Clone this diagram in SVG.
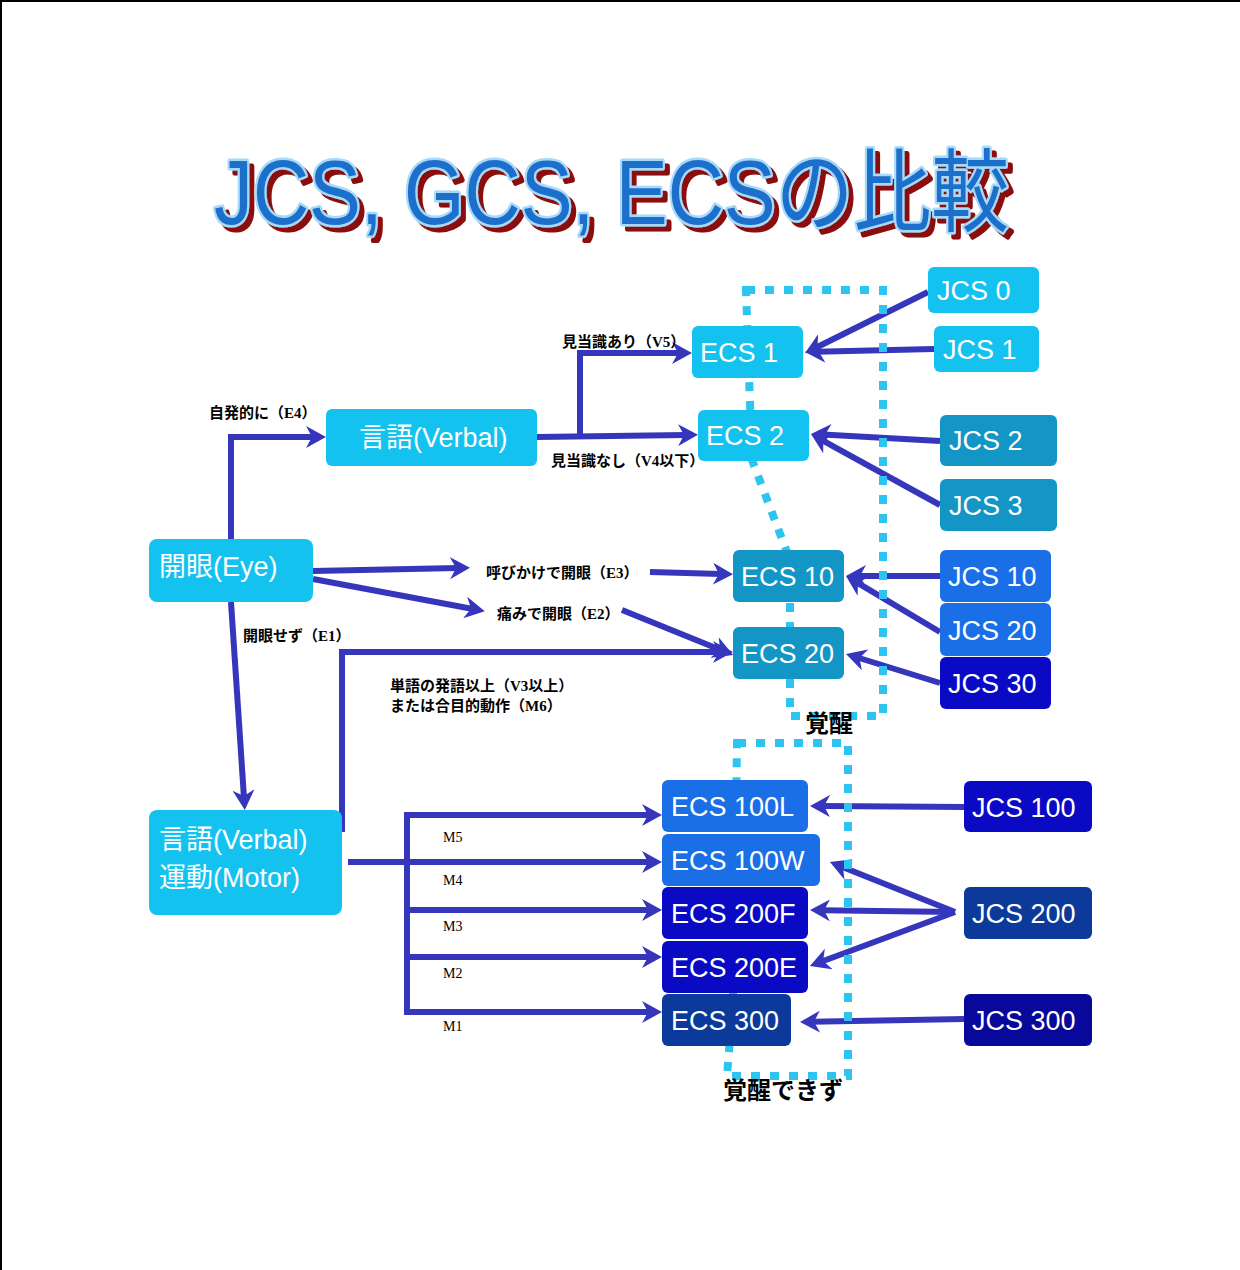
<svg xmlns="http://www.w3.org/2000/svg" width="1240" height="1270" viewBox="0 0 1240 1270">
<defs>
<marker id="ah" markerUnits="userSpaceOnUse" markerWidth="20" markerHeight="22" viewBox="0 0 20 22" refX="8" refY="11" orient="auto">
<path d="M0,0 L20,11 L0,22 L6,11 Z" fill="#3636bd"/>
</marker>
<filter id="sh" x="-5%" y="-30%" width="115%" height="170%">
<feOffset in="SourceAlpha" dx="5" dy="5" result="o"/>
<feFlood flood-color="#8b0a0a"/>
<feComposite in2="o" operator="in" result="s"/>
<feMerge><feMergeNode in="s"/><feMergeNode in="SourceGraphic"/></feMerge>
</filter>
<style>
.c{fill:none;stroke:#3636bd;stroke-width:6;}
.a{marker-end:url(#ah);}
.dot{fill:none;stroke:#2ec4f0;stroke-width:8;stroke-dasharray:9 10;}
.n1{fill:#14c2f0;}
.n2{fill:#1395c6;}
.n3{fill:#1a6ee6;}
.n4{fill:#0a0ac4;}
.n5{fill:#0b3a9a;}
.n6{fill:#08089a;}
.t{font-family:"Liberation Sans","Noto Sans CJK JP",sans-serif;font-size:27px;fill:#ffffff;}
.l{font-family:"Liberation Serif","Noto Sans CJK JP",serif;font-size:15px;font-weight:bold;fill:#000000;}
.m{font-family:"Liberation Serif",serif;font-size:14px;fill:#000000;}
.k{font-family:"Noto Sans CJK JP",sans-serif;font-size:24px;font-weight:bold;fill:#000000;}
.title{font-family:"Liberation Sans","Noto Sans CJK JP",sans-serif;font-size:90px;}
</style>
</defs>
<rect width="1240" height="1270" fill="#ffffff"/>
<path d="M1,1270 V1 H1240" fill="none" stroke="#000000" stroke-width="2"/>

<g id="title">
<text class="title" x="214" y="224" textLength="795" lengthAdjust="spacingAndGlyphs" fill="#1e70cc" stroke="#a6daf8" stroke-width="5" stroke-linejoin="round" paint-order="stroke" filter="url(#sh)">JCS, GCS, ECSの比較</text>
</g>

<g id="connectors">
<path class="c a" d="M231,541 V437 H314"/>
<path class="c a" d="M537,437 L686,435"/>
<path class="c a" d="M580,437 V353 H680"/>
<path class="c a" d="M313,571 L458,568"/>
<path class="c a" d="M650,572 L721,574"/>
<path class="c a" d="M313,579 L473,609"/>
<path class="c a" d="M622,610 L722,650.5"/>
<path class="c a" d="M231,602 L244,798"/>
<path class="c a" d="M342,832 V652 H721"/>
<path class="c a" d="M348,862 H650"/>
<path class="c" d="M407,815 V1012"/>
<path class="c a" d="M404,815 H650"/>
<path class="c a" d="M407,910 H650"/>
<path class="c a" d="M407,957 H650"/>
<path class="c a" d="M404,1012 H650"/>
<path class="c a" d="M928,292 L815.8,347.7"/>
<path class="c a" d="M934,349 L817,351.7"/>
<path class="c a" d="M940,441 L823,434.6"/>
<path class="c a" d="M940,505 L821.5,439.8"/>
<path class="c a" d="M940,576 L858,576"/>
<path class="c a" d="M940,632 L856.3,582.1"/>
<path class="c a" d="M940,683 L857.5,657.5"/>
<path class="c a" d="M964,807 L822,806"/>
<path class="c a" d="M955,912 L841.1,866.5"/>
<path class="c a" d="M955,912 L822,910.2"/>
<path class="c a" d="M955,912 L821.2,961.8"/>
<path class="c a" d="M964,1019 L812,1021.8"/>
</g>

<g id="groups">
<path class="dot" d="M746,290 H883 V716 H790 V560 L752,460 Z"/>
<path class="dot" d="M737,743 H848 V1076 H727 L733,1000 Z"/>
</g>

<g id="ecs1"><rect class="n1" x="692" y="326" width="111" height="52" rx="6"/><text class="t" x="700" y="362">ECS 1</text></g>
<g id="ecs2"><rect class="n1" x="698" y="410" width="111" height="51" rx="6"/><text class="t" x="706" y="445">ECS 2</text></g>
<g id="ecs10"><rect class="n2" x="733" y="550" width="111" height="52" rx="6"/><text class="t" x="741" y="586">ECS 10</text></g>
<g id="ecs20"><rect class="n2" x="733" y="627" width="111" height="52" rx="6"/><text class="t" x="741" y="663">ECS 20</text></g>

<g id="jcs0"><rect class="n1" x="928" y="267" width="111" height="46" rx="6"/><text class="t" x="937" y="300">JCS 0</text></g>
<g id="jcs1"><rect class="n1" x="934" y="326" width="105" height="46" rx="6"/><text class="t" x="943" y="359">JCS 1</text></g>
<g id="jcs2"><rect class="n2" x="940" y="415" width="117" height="51" rx="6"/><text class="t" x="949" y="450">JCS 2</text></g>
<g id="jcs3"><rect class="n2" x="940" y="479" width="117" height="52" rx="6"/><text class="t" x="949" y="515">JCS 3</text></g>
<g id="jcs10"><rect class="n3" x="940" y="550" width="111" height="52" rx="6"/><text class="t" x="948" y="586">JCS 10</text></g>
<g id="jcs20"><rect class="n3" x="940" y="603" width="111" height="53" rx="6"/><text class="t" x="948" y="640">JCS 20</text></g>
<g id="jcs30"><rect class="n4" x="940" y="657" width="111" height="52" rx="6"/><text class="t" x="948" y="693">JCS 30</text></g>

<g id="verbal"><rect class="n1" x="326" y="409" width="211" height="57" rx="6"/><text class="t" x="359" y="447">言語(Verbal)</text></g>
<g id="eye"><rect class="n1" x="149" y="539" width="164" height="63" rx="8"/><text class="t" x="159" y="576">開眼(Eye)</text></g>
<g id="vm"><rect class="n1" x="149" y="810" width="193" height="105" rx="8"/><text class="t" x="159" y="849">言語(Verbal)</text><text class="t" x="159" y="887">運動(Motor)</text></g>

<g id="ecs100l"><rect class="n3" x="662" y="780" width="146" height="52" rx="6"/><text class="t" x="671" y="816">ECS 100L</text></g>
<g id="ecs100w"><rect class="n3" x="662" y="834" width="158" height="52" rx="6"/><text class="t" x="671" y="870">ECS 100W</text></g>
<g id="ecs200f"><rect class="n4" x="662" y="887" width="146" height="52" rx="6"/><text class="t" x="671" y="923">ECS 200F</text></g>
<g id="ecs200e"><rect class="n4" x="662" y="941" width="146" height="52" rx="6"/><text class="t" x="671" y="977">ECS 200E</text></g>
<g id="ecs300"><rect class="n5" x="662" y="994" width="129" height="52" rx="6"/><text class="t" x="671" y="1030">ECS 300</text></g>

<g id="jcs100"><rect class="n4" x="964" y="781" width="128" height="51" rx="6"/><text class="t" x="972" y="817">JCS 100</text></g>
<g id="jcs200"><rect class="n5" x="964" y="887" width="128" height="52" rx="6"/><text class="t" x="972" y="923">JCS 200</text></g>
<g id="jcs300"><rect class="n6" x="964" y="994" width="128" height="52" rx="6"/><text class="t" x="972" y="1030">JCS 300</text></g>

<g id="labels">
<text class="l" x="562" y="347">見当識あり（V5）</text>
<text class="l" x="551" y="466">見当識なし（V4以下）</text>
<text class="l" x="209" y="418">自発的に（E4）</text>
<text class="l" x="486" y="578">呼びかけで開眼（E3）</text>
<text class="l" x="497" y="619">痛みで開眼（E2）</text>
<text class="l" x="243" y="641">開眼せず（E1）</text>
<text class="l" x="390" y="691">単語の発語以上（V3以上）</text>
<text class="l" x="390" y="711">または合目的動作（M6）</text>
<text class="m" x="443" y="842">M5</text>
<text class="m" x="443" y="885">M4</text>
<text class="m" x="443" y="931">M3</text>
<text class="m" x="443" y="978">M2</text>
<text class="m" x="443" y="1031">M1</text>
<text class="k" x="805" y="732">覚醒</text>
<text class="k" x="723" y="1099">覚醒できず</text>
</g>
</svg>
